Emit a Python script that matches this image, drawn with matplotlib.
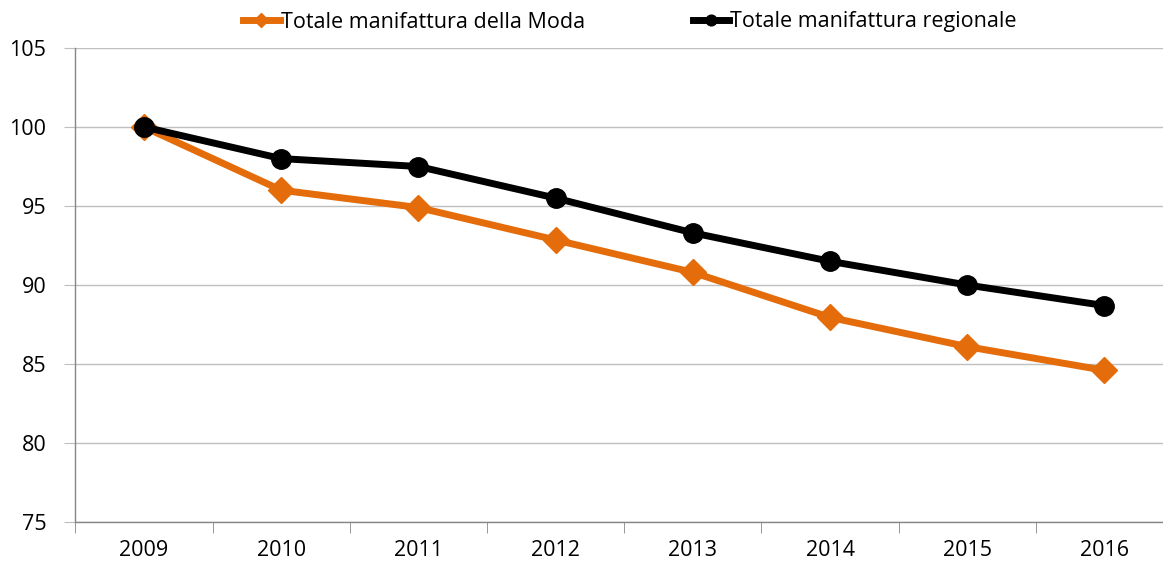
import numpy as np
import matplotlib.pyplot as plt
from matplotlib.ticker import FixedLocator

plt.rcParams['font.family'] = ['Open Sans', 'DejaVu Sans']

# Data
years = ['2009', '2010', '2011', '2012', '2013', '2014', '2015', '2016']
moda = [100.0, 96.0, 94.9, 92.85, 90.8, 87.95, 86.1, 84.6]
regionale = [100.0, 98.0, 97.5, 95.5, 93.3, 91.5, 90.0, 88.7]

ORANGE = '#E46C0A'
GRID = '#BFBFBF'
AXIS = '#868686'
FS = 15.5

fig = plt.figure(figsize=(11.63, 5.66), dpi=100)
ax = fig.add_axes([0.0649, 0.0777, 0.9437, 0.8375])

x = np.arange(len(years))
ax.plot(x, moda, color=ORANGE, lw=5, marker='D', markersize=13,
        label='Totale manifattura della Moda', zorder=3)
ax.plot(x, regionale, color='black', lw=5, marker='o', markersize=14,
        label='Totale manifattura regionale', zorder=4)

ax.set_xlim(-0.5, len(years) - 0.5)
ax.set_ylim(75, 105)
ax.set_yticks(np.arange(75, 106, 5))
ax.set_xticks(x)
ax.set_xticklabels(years)
ax.xaxis.set_minor_locator(FixedLocator(np.arange(-0.5, len(years), 1)))

ax.yaxis.grid(True, color=GRID, lw=1)
ax.set_axisbelow(True)
for s in ['top', 'right']:
    ax.spines[s].set_visible(False)
for s in ['left', 'bottom']:
    ax.spines[s].set_color(AXIS)
    ax.spines[s].set_linewidth(1)

ax.tick_params(axis='y', length=8, color=GRID, labelsize=FS, pad=13)
ax.tick_params(axis='x', which='major', length=0, labelsize=FS, pad=13)
ax.tick_params(axis='x', which='minor', length=8, color=AXIS)

fig.legend(loc='center', bbox_to_anchor=(630 / 1163, 1 - 22 / 566), ncol=2,
           frameon=False, fontsize=FS, handlelength=1.7, handletextpad=0.05,
           columnspacing=5.0, markerscale=0.55)

fig.savefig('out.png', dpi=100)
